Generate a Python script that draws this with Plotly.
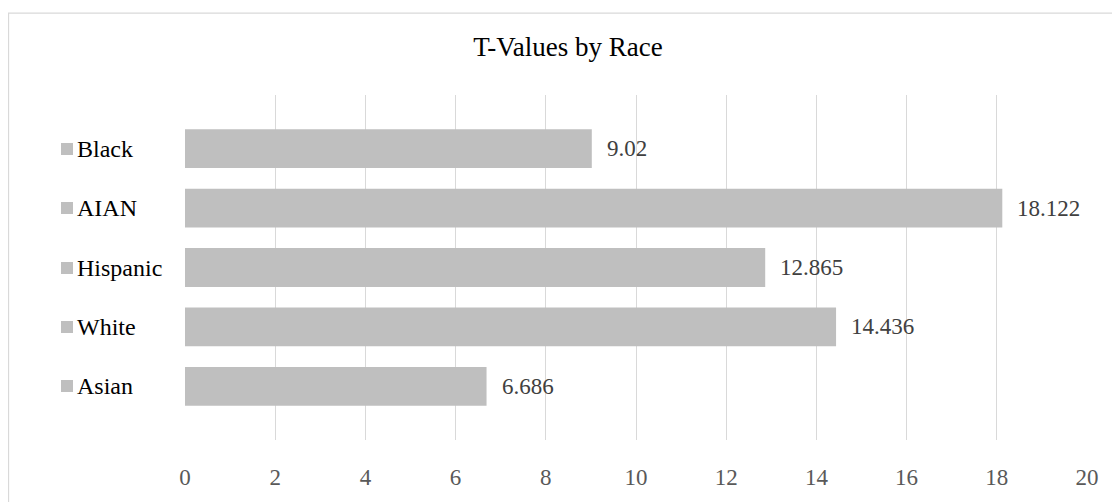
import plotly.graph_objects as go

categories = ["Asian", "White", "Hispanic", "AIAN", "Black"]
t_values = [6.686, 14.436, 12.865, 18.122, 9.02]
value_labels = ["6.686", "14.436", "12.865", "18.122", "9.02"]
x_ticks = [0, 2, 4, 6, 8, 10, 12, 14, 16, 18, 20]

FONT = "Liberation Serif, Times New Roman, serif"
BAR = "#bfbfbf"

# the page body has an 8px margin; work in reference-pixel coordinates and offset
OFF = 8
W, H = 1120 - OFF, 502 - OFF
PL, PR, PT, PB = 185, 1087, 95, 451  # plot area in reference pixels
ML = PL - OFF
MR = W - (PR - OFF)
MT = PT - OFF
MB = H - (PB - OFF)
PW = W - ML - MR
PH = H - MT - MB

def px_x(X):
    return (X - PL) / PW

def px_y(Y):
    return (PB - Y) / PH

fig = go.Figure()
fig.add_trace(go.Bar(
    x=t_values, y=categories, orientation="h",
    marker=dict(color=BAR, line=dict(width=0)),
    hoverinfo="x+y",
))

annotations = []
for cat, val, lab in zip(categories, t_values, value_labels):
    annotations.append(dict(
        x=val, y=cat, xref="x", yref="y", text=lab, showarrow=False,
        xanchor="left", yanchor="middle", xshift=13,
        font=dict(family=FONT, size=23, color="#404040"),
    ))
    annotations.append(dict(
        x=px_x(61), y=cat, xref="paper", yref="y", text=" ", showarrow=False,
        xanchor="left", yanchor="middle", width=12, height=12,
        bgcolor=BAR, borderpad=0, borderwidth=0, font=dict(size=1),
    ))
    annotations.append(dict(
        x=px_x(75), y=cat, xref="paper", yref="y", text=cat, showarrow=False,
        xanchor="left", yanchor="middle",
        font=dict(family=FONT, size=24, color="#000000"),
    ))

fig.update_layout(
    width=W, height=H,
    margin=dict(l=ML, r=MR, t=MT, b=MB, pad=0),
    paper_bgcolor="white", plot_bgcolor="white",
    bargap=0.348,
    showlegend=False,
    title=dict(text="T-Values by Race", x=(568 - OFF) / W, xref="container", xanchor="center",
               y=1 - (47 - OFF) / H, yref="container", yanchor="middle",
               font=dict(family=FONT, size=27, color="#000000")),
    xaxis=dict(range=[0, 20], tickvals=x_ticks, showgrid=True, gridcolor="#d9d9d9",
               gridwidth=1, zeroline=False, showline=False, ticks="outside",
               ticklen=16, tickcolor="rgba(0,0,0,0)",
               tickfont=dict(family=FONT, size=23, color="#595959")),
    yaxis=dict(categoryorder="array", categoryarray=categories, range=[-0.9, 4.9],
               showticklabels=False, showgrid=False, zeroline=False, showline=False),
    annotations=annotations,
    shapes=[dict(type="rect", xref="paper", yref="paper",
                 x0=px_x(8.5), x1=px_x(1130), y0=px_y(520), y1=px_y(10.5),
                 line=dict(color="#d9d9d9", width=1.3), layer="below")],
)

fig.write_html("out.html")
